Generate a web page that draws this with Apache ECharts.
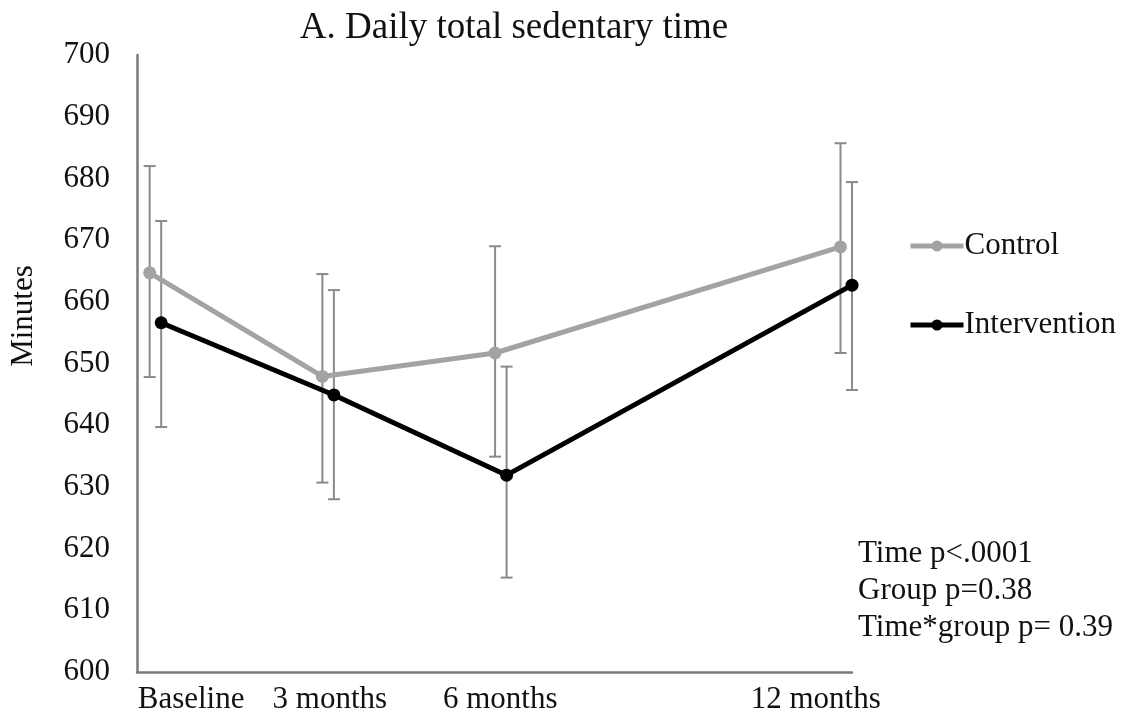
<!DOCTYPE html>
<html>
<head>
<meta charset="utf-8">
<script src="https://cdn.jsdelivr.net/npm/echarts@6/dist/echarts.min.js"></script>
<style>
html,body{margin:0;padding:0;background:#fff;}
#chart{width:1122px;height:725px;}
</style>
</head>
<body>
<div id="chart"></div>
<script>
// ---- data ----
const months = [0, 3, 6, 12];
const timeLabels = ['Baseline', '3 months', '6 months', '12 months'];
const timeLabelPos = [0.62, 3.03, 5.99, 11.47];
const controlMean = [664.7, 647.9, 651.7, 668.9];
const controlLow  = [647.8, 630.7, 634.9, 651.7];
const controlHigh = [682.0, 664.5, 669.0, 685.7];
const interventionMean = [656.6, 644.9, 631.9, 662.7];
const interventionLow  = [639.7, 628.0, 615.3, 645.7];
const interventionHigh = [673.1, 661.9, 649.5, 679.4];
const yTicks = [600, 610, 620, 630, 640, 650, 660, 670, 680, 690, 700];
const statsLines = ['Time p<.0001', 'Group p=0.38', 'Time*group p= 0.39'];

const dodge = 0.1;
const FONT = '"Liberation Serif", "DejaVu Serif", serif';
const TXT = '#111111';

const ctrlPts = months.map((m, i) => [m - dodge, controlMean[i]]);
const intPts = months.map((m, i) => [m + dodge, interventionMean[i]]);
const errData = months.map((m, i) => [m - dodge, controlLow[i], controlHigh[i]])
  .concat(months.map((m, i) => [m + dodge, interventionLow[i], interventionHigh[i]]));

function renderErr(params, api) {
  const x = api.value(0);
  const lo = api.coord([x, api.value(1)]);
  const hi = api.coord([x, api.value(2)]);
  const cw = 6;
  const st = { stroke: '#8a8a8a', lineWidth: 2 };
  return {
    type: 'group',
    children: [
      { type: 'line', shape: { x1: hi[0], y1: hi[1], x2: lo[0], y2: lo[1] }, style: st },
      { type: 'line', shape: { x1: hi[0] - cw, y1: hi[1], x2: hi[0] + cw, y2: hi[1] }, style: st },
      { type: 'line', shape: { x1: lo[0] - cw, y1: lo[1], x2: lo[0] + cw, y2: lo[1] }, style: st }
    ]
  };
}

const chart = echarts.init(document.getElementById('chart'));
chart.setOption({
  animation: false,
  backgroundColor: '#ffffff',
  title: {
    text: 'A. Daily total sedentary time',
    left: 509,
    top: 5,
    textAlign: 'center',
    textStyle: { fontFamily: FONT, fontSize: 37, fontWeight: 'normal', color: TXT }
  },
  grid: { left: 137, right: 270, top: 55, bottom: 53, containLabel: false, outerBoundsMode: 'none' },
  xAxis: {
    type: 'value',
    min: -0.32,
    max: 12.1,
    axisLine: { show: true, onZero: false, lineStyle: { color: '#7a7a7a', width: 2.5 } },
    axisTick: { show: false },
    splitLine: { show: false },
    axisLabel: {
      customValues: timeLabelPos,
      formatter: function (v) {
        const i = timeLabelPos.indexOf(v);
        return i >= 0 ? timeLabels[i] : '';
      },
      margin: 12,
      fontFamily: FONT, fontSize: 31, color: TXT
    }
  },
  yAxis: {
    type: 'value',
    min: yTicks[0],
    max: yTicks[yTicks.length - 1],
    interval: yTicks[1] - yTicks[0],
    axisLine: { show: true, onZero: false, lineStyle: { color: '#7a7a7a', width: 2.5 } },
    axisTick: { show: false },
    splitLine: { show: false },
    axisLabel: { margin: 27, fontFamily: FONT, fontSize: 31, color: TXT }
  },
  legend: {
    orient: 'vertical',
    left: 903,
    top: 223,
    itemWidth: 53,
    itemHeight: 14,
    itemGap: 43,
    data: ['Control', 'Intervention'],
    lineStyle: { width: 5 },
    textStyle: { fontFamily: FONT, fontSize: 31, color: TXT, lineHeight: 36, padding: [0, 0, 0, -4] }
  },
  series: [
    {
      type: 'custom',
      name: 'err',
      renderItem: renderErr,
      data: errData,
      z: 1,
      silent: true
    },
    {
      name: 'Control',
      type: 'line',
      data: ctrlPts,
      symbol: 'circle',
      symbolSize: 13,
      showSymbol: true,
      lineStyle: { color: '#a3a3a3', width: 5 },
      itemStyle: { color: '#a3a3a3' },
      z: 2
    },
    {
      name: 'Intervention',
      type: 'line',
      data: intPts,
      symbol: 'circle',
      symbolSize: 13,
      showSymbol: true,
      lineStyle: { color: '#000000', width: 5 },
      itemStyle: { color: '#000000' },
      z: 3
    }
  ],
  graphic: [
    {
      type: 'text',
      x: 24, y: 316,
      rotation: Math.PI / 2,
      style: { text: 'Minutes', font: '31px ' + FONT, fill: TXT, align: 'center', verticalAlign: 'middle' }
    },
    {
      type: 'text',
      left: 858, top: 535,
      style: { text: statsLines.join('\n'), font: '31px ' + FONT, fill: TXT, lineHeight: 37 }
    }
  ]
});
</script>
</body>
</html>
